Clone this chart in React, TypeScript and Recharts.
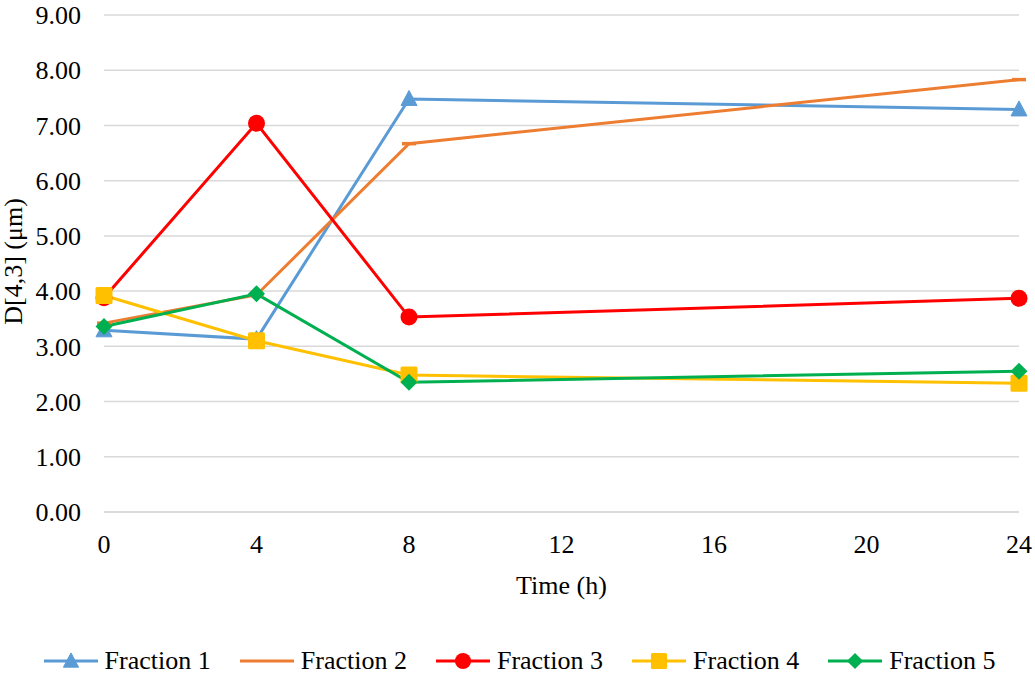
import React from 'react';
import { LineChart, Line, XAxis, YAxis, CartesianGrid, Legend } from 'recharts';

const times = [0, 4, 8, 24];
const fraction1 = [3.29, 3.13, 7.48, 7.29];
const fraction2 = [3.42, 3.93, 6.67, 7.83];
const fraction3 = [3.88, 7.04, 3.53, 3.87];
const fraction4 = [3.92, 3.10, 2.48, 2.33];
const fraction5 = [3.36, 3.95, 2.35, 2.55];
const xTicks = [0, 4, 8, 12, 16, 20, 24];
const yTicks = [0, 1, 2, 3, 4, 5, 6, 7, 8, 9];

const seriesNames = ['Fraction 1', 'Fraction 2', 'Fraction 3', 'Fraction 4', 'Fraction 5'];
const seriesKeys = ['f1', 'f2', 'f3', 'f4', 'f5'];
const colors = ['#5B9BD5', '#ED7D31', '#FF0000', '#FFC000', '#00B050'];
const markers = ['triangle', 'dash', 'circle', 'square', 'diamond'];

const data = times.map((t, i) => ({
  t,
  f1: fraction1[i],
  f2: fraction2[i],
  f3: fraction3[i],
  f4: fraction4[i],
  f5: fraction5[i],
}));

const FONT = "'Liberation Serif', 'Times New Roman', serif";
const FS = 26;

function markerShape(kind: string, cx: number, cy: number, color: string, key?: any, s: number = 1) {
  if (cx == null || cy == null) return <g key={key} />;
  switch (kind) {
    case 'triangle':
      return <polygon key={key} points={`${cx},${cy - 8.5 * s} ${cx + 8 * s},${cy + 6.5 * s} ${cx - 8 * s},${cy + 6.5 * s}`} fill={color} stroke={color} strokeWidth={1} strokeLinejoin="round" />;
    case 'circle':
      return <circle key={key} cx={cx} cy={cy} r={8.5 * s} fill={color} />;
    case 'square':
      return <rect key={key} x={cx - 8.5 * s} y={cy - 8.5 * s} width={17 * s} height={17 * s} rx={1.5} fill={color} />;
    case 'diamond':
      return <polygon key={key} points={`${cx},${cy - 8.5 * s} ${cx + 8.5 * s},${cy} ${cx},${cy + 8.5 * s} ${cx - 8.5 * s},${cy}`} fill={color} />;
    case 'dash':
      return <rect key={key} x={cx - 7} y={cy - 1.75} width={14} height={3.5} fill={color} />;
    default:
      return <g key={key} />;
  }
}

const LegendContent = () => (
  <div style={{ display: 'flex', justifyContent: 'center', alignItems: 'center', height: 28, fontFamily: FONT, fontSize: FS, color: '#000', lineHeight: '28px', paddingLeft: 20 }}>
    {seriesNames.map((n, i) => (
      <div key={n} style={{ display: 'flex', alignItems: 'center', marginRight: i < 4 ? 29 : 0 }}>
        <svg width={54} height={22} style={{ marginRight: 7 }}>
          <line x1={0} y1={11} x2={54} y2={11} stroke={colors[i]} strokeWidth={3} />
          {markers[i] !== 'dash' && markerShape(markers[i], 27, 11, colors[i], undefined, 0.95)}
        </svg>
        <span style={{ fontFamily: FONT }}>{n}</span>
      </div>
    ))}
  </div>
);

export default function App() {
  return (
    <div style={{ position: 'absolute', left: 0, top: 0, width: 1035, height: 675, background: '#fff', fontFamily: FONT }}>
      <LineChart width={1035} height={675} data={data} margin={{ top: 15, right: 16, left: 0, bottom: 0 }}>
        <CartesianGrid vertical={false} stroke="#d9d9d9" strokeWidth={1.5} />
        <XAxis
          dataKey="t"
          type="number"
          domain={[0, 24]}
          ticks={xTicks}
          height={135}
          axisLine={{ stroke: '#d9d9d9', strokeWidth: 1.5 }}
          tickLine={false}
          tickSize={0}
          tickMargin={23}
          tick={{ fill: '#000', fontSize: FS, fontFamily: FONT, style: { fontFamily: FONT } }}
          label={{
            content: (p: any) => {
              const vb = p.viewBox || {};
              return (
                <text x={vb.x + vb.width / 2} y={vb.y + 82} textAnchor="middle" fill="#000" fontSize={FS} fontFamily={FONT} style={{ fontFamily: FONT }}>
                  Time (h)
                </text>
              );
            },
          }}
        />
        <YAxis
          type="number"
          domain={[0, 9]}
          ticks={yTicks}
          width={104}
          axisLine={false}
          tickLine={false}
          tickSize={0}
          tickMargin={23}
          tickFormatter={(v: number) => v.toFixed(2)}
          tick={{ fill: '#000', fontSize: FS, fontFamily: FONT, style: { fontFamily: FONT } }}
          label={{
            content: (p: any) => {
              const vb = p.viewBox || {};
              const cx = 22;
              const cy = vb.y + vb.height / 2 - 2;
              return (
                <text x={cx} y={cy} transform={`rotate(-90 ${cx} ${cy})`} textAnchor="middle" fill="#000" fontSize={FS} fontFamily={FONT} style={{ fontFamily: FONT }}>
                  D[4,3] (μm)
                </text>
              );
            },
          }}
        />
        <Legend verticalAlign="bottom" height={28} content={<LegendContent />} />
        {seriesKeys.map((k, i) => (
          <Line
            key={k}
            dataKey={k}
            name={seriesNames[i]}
            type="linear"
            stroke={colors[i]}
            strokeWidth={3}
            isAnimationActive={false}
            dot={(p: any) => markerShape(markers[i], p.cx, p.cy, colors[i], p.key ?? `${k}-${p.index}`)}
            activeDot={false}
          />
        ))}
      </LineChart>
    </div>
  );
}
